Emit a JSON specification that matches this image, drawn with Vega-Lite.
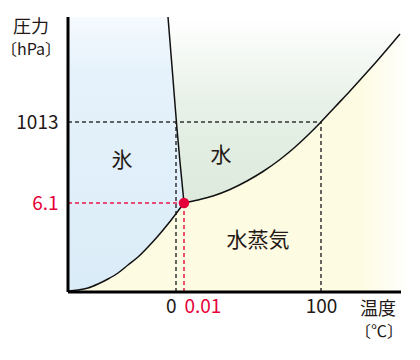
{
  "$schema": "https://vega.github.io/schema/vega-lite/v6.json",
  "width": 342,
  "height": 275,
  "autosize": {"type": "none"},
  "padding": {"left": 68, "top": 17, "right": 10, "bottom": 68},
  "background": "white",
  "config": {"view": {"stroke": null}, "font": "Noto Sans CJK JP"},
  "datasets": {
    "ice": [
      {"x": 0, "y": 275, "y2": 1}, {"x": 10, "y": 275, "y2": 2}, {"x": 20, "y": 275, "y2": 4},
      {"x": 30, "y": 275, "y2": 8}, {"x": 40, "y": 275, "y2": 13}, {"x": 50, "y": 275, "y2": 19},
      {"x": 60, "y": 275, "y2": 27}, {"x": 70, "y": 275, "y2": 35}, {"x": 80, "y": 275, "y2": 45},
      {"x": 90, "y": 275, "y2": 56}, {"x": 100, "y": 275, "y2": 68}, {"x": 105, "y": 213, "y2": 74},
      {"x": 109, "y": 163, "y2": 79}, {"x": 112, "y": 130, "y2": 83}, {"x": 116, "y": 89, "y2": 89}
    ],
    "water": [
      {"x": 100, "y": 275, "y2": 275}, {"x": 105, "y": 275, "y2": 213}, {"x": 109, "y": 275, "y2": 163},
      {"x": 112, "y": 275, "y2": 130}, {"x": 116, "y": 275, "y2": 89}, {"x": 130, "y": 275, "y2": 92},
      {"x": 145, "y": 275, "y2": 96}, {"x": 162, "y": 275, "y2": 102.5}, {"x": 179, "y": 275, "y2": 111},
      {"x": 195, "y": 275, "y2": 120.5}, {"x": 212, "y": 275, "y2": 132.5}, {"x": 226, "y": 275, "y2": 144},
      {"x": 239, "y": 275, "y2": 156}, {"x": 253, "y": 275, "y2": 170}, {"x": 267, "y": 275, "y2": 185},
      {"x": 282, "y": 275, "y2": 201}, {"x": 296, "y": 275, "y2": 216.5}, {"x": 309, "y": 275, "y2": 231},
      {"x": 321, "y": 275, "y2": 245}, {"x": 332, "y": 275, "y2": 258}
    ],
    "vapor": [
      {"x": 0, "y": 1, "y2": 0}, {"x": 10, "y": 2, "y2": 0}, {"x": 20, "y": 4, "y2": 0},
      {"x": 30, "y": 8, "y2": 0}, {"x": 40, "y": 13, "y2": 0}, {"x": 50, "y": 19, "y2": 0},
      {"x": 60, "y": 27, "y2": 0}, {"x": 70, "y": 35, "y2": 0}, {"x": 80, "y": 45, "y2": 0},
      {"x": 90, "y": 56, "y2": 0}, {"x": 100, "y": 68, "y2": 0}, {"x": 110, "y": 81, "y2": 0},
      {"x": 116, "y": 89, "y2": 0}, {"x": 130, "y": 92, "y2": 0}, {"x": 145, "y": 96, "y2": 0},
      {"x": 162, "y": 102.5, "y2": 0}, {"x": 179, "y": 111, "y2": 0}, {"x": 195, "y": 120.5, "y2": 0},
      {"x": 212, "y": 132.5, "y2": 0}, {"x": 226, "y": 144, "y2": 0}, {"x": 239, "y": 156, "y2": 0},
      {"x": 253, "y": 170, "y2": 0}, {"x": 267, "y": 185, "y2": 0}, {"x": 282, "y": 201, "y2": 0},
      {"x": 296, "y": 216.5, "y2": 0}, {"x": 309, "y": 231, "y2": 0}, {"x": 321, "y": 245, "y2": 0},
      {"x": 332, "y": 258, "y2": 0}, {"x": 342, "y": 258, "y2": 0}
    ],
    "curves": [
      {"curve": "sub", "x": 0, "y": 1}, {"curve": "sub", "x": 10, "y": 2}, {"curve": "sub", "x": 20, "y": 4},
      {"curve": "sub", "x": 30, "y": 8}, {"curve": "sub", "x": 40, "y": 13}, {"curve": "sub", "x": 50, "y": 19},
      {"curve": "sub", "x": 60, "y": 27}, {"curve": "sub", "x": 70, "y": 35}, {"curve": "sub", "x": 80, "y": 45},
      {"curve": "sub", "x": 90, "y": 56}, {"curve": "sub", "x": 100, "y": 68}, {"curve": "sub", "x": 110, "y": 81},
      {"curve": "sub", "x": 116, "y": 89},
      {"curve": "vap", "x": 116, "y": 89}, {"curve": "vap", "x": 130, "y": 92}, {"curve": "vap", "x": 145, "y": 96},
      {"curve": "vap", "x": 162, "y": 102.5}, {"curve": "vap", "x": 179, "y": 111}, {"curve": "vap", "x": 195, "y": 120.5},
      {"curve": "vap", "x": 212, "y": 132.5}, {"curve": "vap", "x": 226, "y": 144}, {"curve": "vap", "x": 239, "y": 156},
      {"curve": "vap", "x": 253, "y": 170}, {"curve": "vap", "x": 267, "y": 185}, {"curve": "vap", "x": 282, "y": 201},
      {"curve": "vap", "x": 296, "y": 216.5}, {"curve": "vap", "x": 309, "y": 231}, {"curve": "vap", "x": 321, "y": 245},
      {"curve": "vap", "x": 332, "y": 258},
      {"curve": "melt", "x": 100, "y": 275}, {"curve": "melt", "x": 105, "y": 213}, {"curve": "melt", "x": 109, "y": 163},
      {"curve": "melt", "x": 112, "y": 130}, {"curve": "melt", "x": 116, "y": 89}
    ],
    "blackDash": [
      {"x": 0, "y": 170, "x2": 253, "y2": 170},
      {"x": 108, "y": 0, "x2": 108, "y2": 170},
      {"x": 253, "y": 0, "x2": 253, "y2": 170}
    ],
    "redDash": [
      {"x": 0, "y": 89, "x2": 116, "y2": 89},
      {"x": 116, "y": 0, "x2": 116, "y2": 89}
    ],
    "axes": [
      {"x": 0, "y": 0, "x2": 333, "y2": 0},
      {"x": 0, "y": 0, "x2": 0, "y2": 275}
    ],
    "triple": [{"x": 116, "y": 89}],
    "regions": [
      {"x": 54, "y": 131, "t": "氷"},
      {"x": 153, "y": 136, "t": "水"},
      {"x": 190, "y": 51, "t": "水蒸気"}
    ],
    "titles": [
      {"x": -37, "y": 264, "t": "圧力"},
      {"x": 310, "y": -18, "t": "温度"}
    ],
    "units": [
      {"x": -37, "y": 242, "t": "〔hPa〕"},
      {"x": 311, "y": -40, "t": "〔℃〕"}
    ]
  },
  "encoding": {
    "x": {
      "field": "x", "type": "quantitative",
      "scale": {"domain": [0, 342], "nice": false, "zero": false},
      "axis": {
        "values": [108, 116, 253],
        "labelExpr": "datum.value == 108 ? '0' : datum.value == 116 ? '0.01' : '100'",
        "domain": false, "ticks": false, "grid": false, "title": null,
        "labelFont": "Noto Sans CJK JP", "labelFontSize": 19, "labelPadding": 5,
        "labelColor": {"condition": {"test": "datum.value == 116", "value": "#e60039"}, "value": "#231815"},
        "labelAlign": {"condition": [{"test": "datum.value == 108", "value": "right"}, {"test": "datum.value == 116", "value": "left"}], "value": "center"},
        "labelOverlap": false
      }
    },
    "y": {
      "field": "y", "type": "quantitative",
      "scale": {"domain": [0, 275], "nice": false, "zero": false},
      "axis": {
        "values": [89, 170],
        "labelExpr": "datum.value == 89 ? '6.1' : '1013'",
        "domain": false, "ticks": false, "grid": false, "title": null,
        "labelFont": "Noto Sans CJK JP", "labelFontSize": 19, "labelPadding": 10,
        "labelColor": {"condition": {"test": "datum.value == 89", "value": "#e60039"}, "value": "#231815"},
        "labelOverlap": false
      }
    }
  },
  "layer": [
    {
      "data": {"name": "vapor"},
      "mark": {"type": "area", "interpolate": "monotone",
        "color": {"gradient": "linear", "x1": 0, "y1": 0, "x2": 1, "y2": 0,
          "stops": [{"offset": 0, "color": "#fefbe3"}, {"offset": 0.86, "color": "#fefbe3"}, {"offset": 1, "color": "#ffffff"}]}},
      "encoding": {"y2": {"field": "y2"}}
    },
    {
      "data": {"name": "water"},
      "mark": {"type": "area", "interpolate": "monotone",
        "color": {"gradient": "linear", "x1": 0, "y1": 0, "x2": 0, "y2": 1,
          "stops": [{"offset": 0, "color": "#ffffff"}, {"offset": 0.45, "color": "#e8f1e8"}, {"offset": 1, "color": "#dceadc"}]}},
      "encoding": {"y2": {"field": "y2"}}
    },
    {
      "data": {"name": "ice"},
      "mark": {"type": "area", "interpolate": "monotone",
        "color": {"gradient": "linear", "x1": 0, "y1": 0, "x2": 0, "y2": 1,
          "stops": [{"offset": 0, "color": "#f5fafe"}, {"offset": 0.2, "color": "#e6f2fb"}, {"offset": 1, "color": "#daecf8"}]}},
      "encoding": {"y2": {"field": "y2"}}
    },
    {
      "data": {"name": "blackDash"},
      "mark": {"type": "rule", "color": "#333333", "strokeWidth": 1.5, "strokeDash": [4, 3]},
      "encoding": {"x2": {"field": "x2"}, "y2": {"field": "y2"}}
    },
    {
      "data": {"name": "redDash"},
      "mark": {"type": "rule", "color": "#e8194a", "strokeWidth": 1.5, "strokeDash": [4, 3]},
      "encoding": {"x2": {"field": "x2"}, "y2": {"field": "y2"}}
    },
    {
      "data": {"name": "curves"},
      "mark": {"type": "line", "interpolate": "monotone", "color": "#111111", "strokeWidth": 1.5},
      "encoding": {"detail": {"field": "curve"}}
    },
    {
      "data": {"name": "axes"},
      "mark": {"type": "rule", "color": "#000000", "strokeWidth": 3},
      "encoding": {"x2": {"field": "x2"}, "y2": {"field": "y2"}}
    },
    {
      "data": {"name": "triple"},
      "mark": {"type": "point", "filled": true, "opacity": 1, "size": 110, "color": "#e60039"}
    },
    {
      "data": {"name": "regions"},
      "mark": {"type": "text", "fontSize": 21, "color": "#231815", "font": "Noto Sans CJK JP"},
      "encoding": {"text": {"field": "t"}}
    },
    {
      "data": {"name": "titles"},
      "mark": {"type": "text", "fontSize": 18, "color": "#231815", "font": "Noto Sans CJK JP"},
      "encoding": {"text": {"field": "t"}}
    },
    {
      "data": {"name": "units"},
      "mark": {"type": "text", "fontSize": 16, "color": "#231815", "font": "Noto Sans CJK JP"},
      "encoding": {"text": {"field": "t"}}
    }
  ]
}
